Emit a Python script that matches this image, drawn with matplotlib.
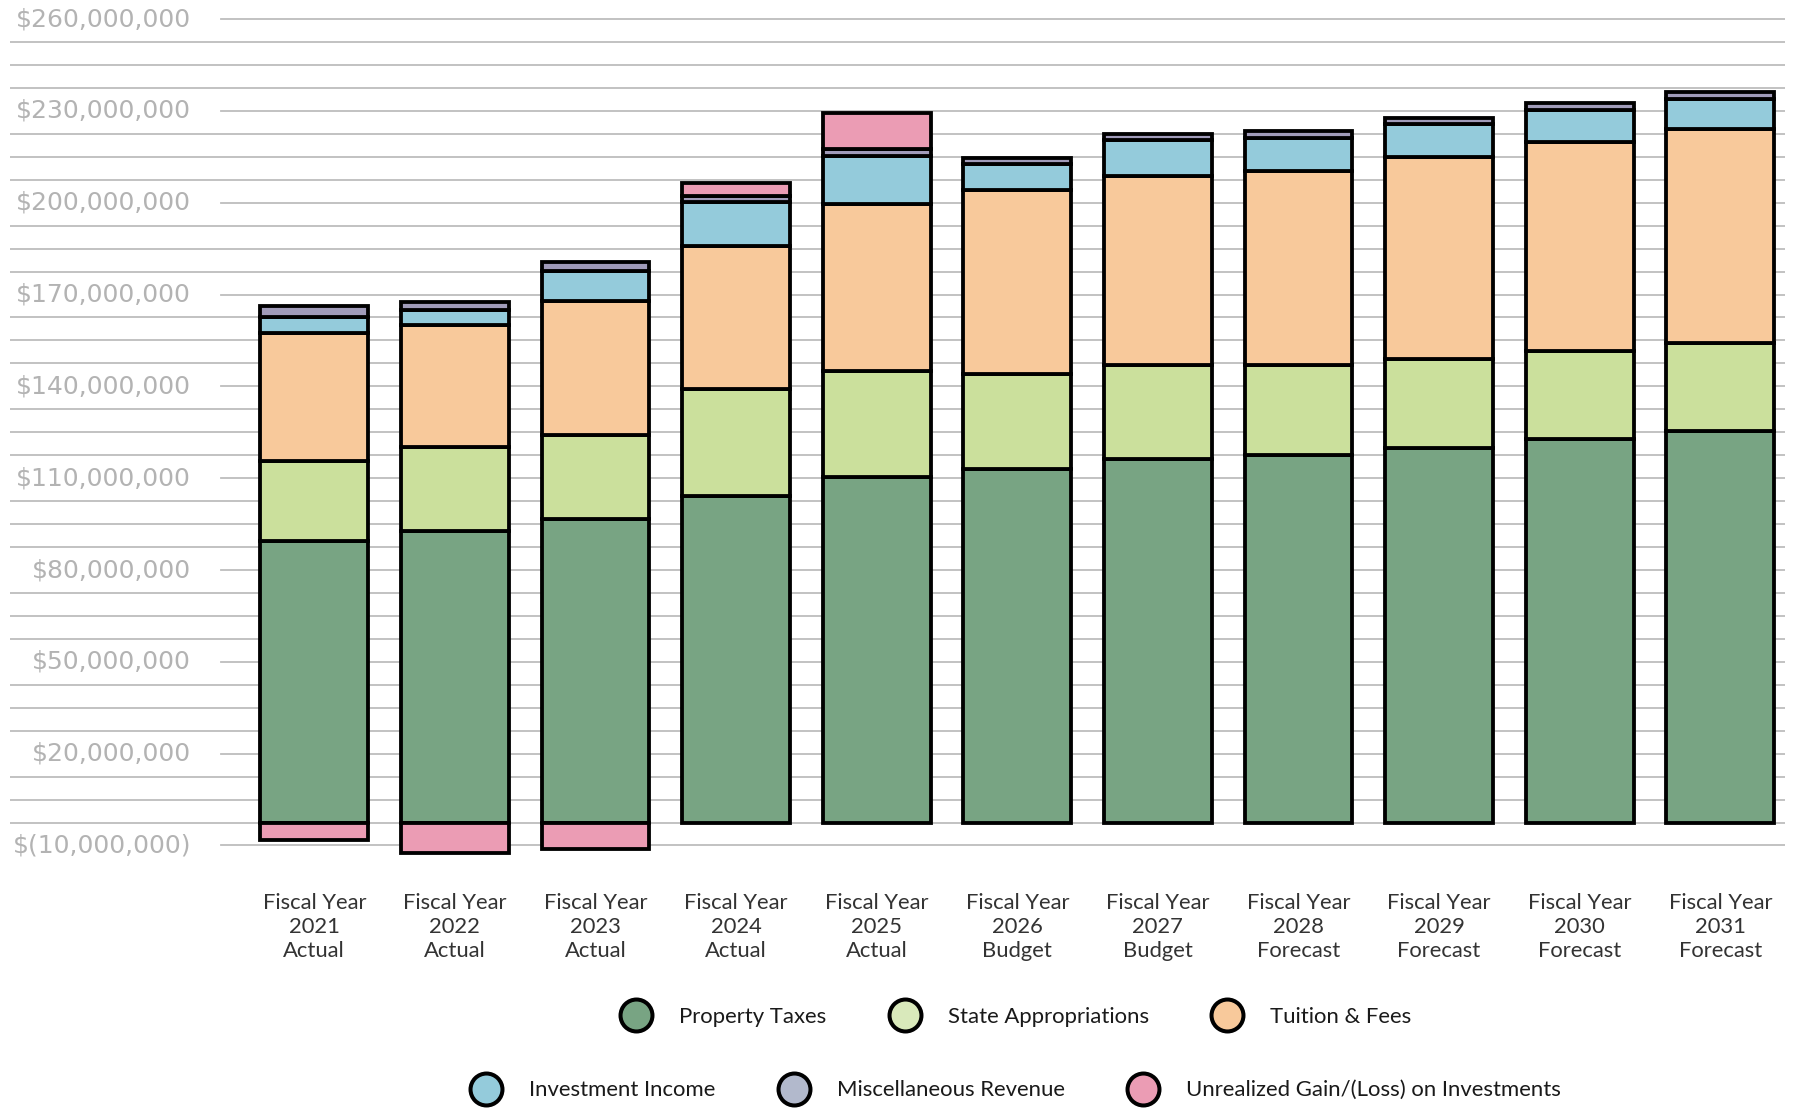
import numpy as np
import matplotlib.pyplot as plt
from matplotlib.lines import Line2D

# values in millions of dollars
years = ['2021', '2022', '2023', '2024', '2025', '2026', '2027', '2028', '2029', '2030', '2031']
kinds = ['Actual', 'Actual', 'Actual', 'Actual', 'Actual', 'Budget', 'Budget',
         'Forecast', 'Forecast', 'Forecast', 'Forecast']
property_taxes = [91.9, 95.1, 99.1, 106.6, 112.9, 115.4, 118.9, 120.2, 122.5, 125.2, 128.0]
state_approp = [26.2, 27.5, 27.5, 35.2, 34.5, 31.1, 30.5, 29.2, 28.8, 28.8, 28.6]
tuition_fees = [41.8, 40.0, 43.7, 46.7, 54.8, 60.1, 61.8, 63.6, 66.0, 68.2, 70.1]
investment_income = [5.2, 4.9, 9.8, 14.1, 15.4, 8.6, 11.7, 10.7, 10.8, 10.7, 9.8]
misc_revenue = [3.7, 2.5, 3.1, 2.2, 2.3, 2.0, 2.2, 2.3, 2.0, 2.1, 2.1]
unrealized = [-5.6, -10.0, -8.7, 4.2, 11.9, 0, 0, 0, 0, 0, 0]

series_names = ['Property Taxes', 'State Appropriations', 'Tuition & Fees',
                'Investment Income', 'Miscellaneous Revenue', 'Unrealized Gain/(Loss) on Investments']
bar_colors = ['#78a483', '#cbe09c', '#f8c99b', '#94cbdb', '#a09bb9', '#eb9cb4']
legend_colors = ['#78a483', '#d9e9bb', '#f8c99b', '#94cbdb', '#b2b9cc', '#eb9cb4']

tick_text = ['$(10,000,000)', '$20,000,000', '$50,000,000', '$80,000,000', '$110,000,000',
             '$140,000,000', '$170,000,000', '$200,000,000', '$230,000,000', '$260,000,000']

fig = plt.figure(figsize=(17.94, 11.09), dpi=100)
ax = fig.add_axes([10 / 1794, 0.21416, 1775 / 1794, 0.77831])
x = np.arange(len(years))
ax.set_xlim(-2.164, 10.46)
ax.set_ylim(-16, 266)
for s in ax.spines.values():
    s.set_visible(False)
ax.set_xticks([])
ax.set_yticks([])

# grid every 7.5M, labelled every 4th line
grid = -7.5 + 7.5 * np.arange(37)
for i, g in enumerate(grid):
    if i % 4 == 0:
        ax.axhline(g, xmin=0.1189, color='#bdbdbd', lw=1.3, zorder=1)
        ax.text(0.102, g, tick_text[i // 4], transform=ax.get_yaxis_transform(),
                ha='right', va='center', fontsize=18, color='#b3b3b3', family='DejaVu Sans')
    else:
        ax.axhline(g, color='#bdbdbd', lw=1.3, zorder=1)

w = 0.766
stack = [property_taxes, state_approp, tuition_fees, investment_income, misc_revenue]
bottom = np.zeros(len(years))
for vals, col in zip(stack, bar_colors):
    ax.bar(x, vals, w, bottom=bottom, color=col, edgecolor='black', linewidth=2.75, zorder=3)
    bottom += np.array(vals)

gain = np.array(unrealized)
pos = gain > 0
neg = gain < 0
ax.bar(x[pos], gain[pos], w, bottom=bottom[pos], color=bar_colors[5], edgecolor='black',
       linewidth=2.75, zorder=3)
ax.bar(x[neg], gain[neg], w, color=bar_colors[5], edgecolor='black', linewidth=2.75, zorder=3)

for i in range(len(years)):
    ax.text(i, -0.0641, 'Fiscal Year\n' + years[i] + '\n' + kinds[i],
            transform=ax.get_xaxis_transform(), ha='center', va='center',
            fontsize=15.8, color='#333333', family='Lato', linespacing=1.26)

handles = [Line2D([], [], ls='none', marker='o', ms=23, mfc=c, mec='black', mew=2.9)
           for c in legend_colors]
for row, yy in [(0, 0.0828), (1, 0.0169)]:
    leg = fig.legend(handles[row * 3:row * 3 + 3], series_names[row * 3:row * 3 + 3],
                     loc='center', bbox_to_anchor=(0.5675, yy), ncol=3, frameon=False,
                     prop={'family': 'Lato', 'size': 15.9}, handlelength=1.0,
                     handletextpad=1.45, columnspacing=3.05, borderpad=0)
    for t in leg.get_texts():
        t.set_color('#1a1a1a')

fig.savefig('out.png', dpi=100)
